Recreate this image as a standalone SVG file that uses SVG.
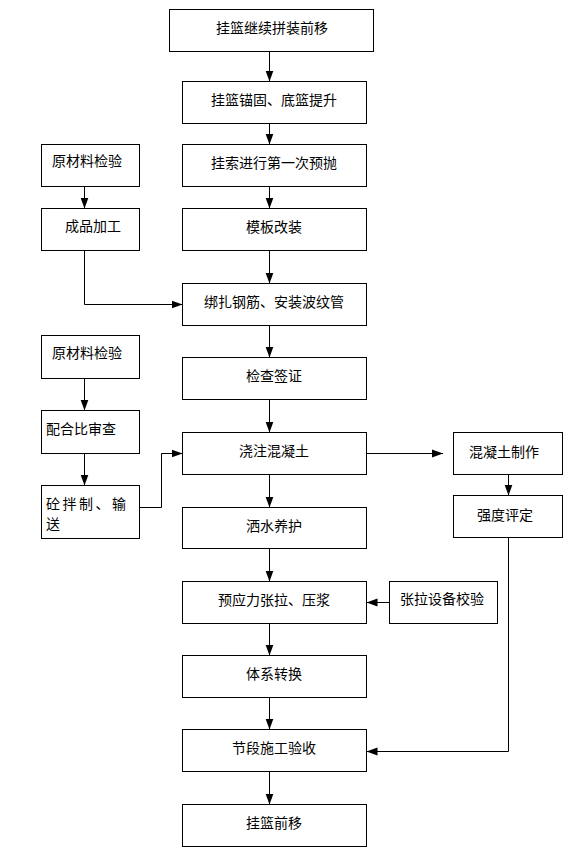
<svg xmlns="http://www.w3.org/2000/svg" width="572" height="866" viewBox="0 0 572 866">
<defs>
<style>
.box{fill:#fff;stroke:#000;stroke-width:1}
.t{font-family:"Noto Sans CJK SC","Liberation Sans",sans-serif;font-size:14px;fill:#000;dominant-baseline:central}
.c{text-anchor:middle}
.ln{fill:none;stroke:#000;stroke-width:1;marker-end:url(#ah)}
</style>
<marker id="ah" markerUnits="userSpaceOnUse" markerWidth="12" markerHeight="10" refX="11" refY="5" orient="auto"><path d="M0,1 L11,5 L0,9 z" fill="#000"/></marker>
</defs>
<rect width="572" height="866" fill="#fff"/>
<g id="n1"><rect class="box" x="169.5" y="9.5" width="204" height="42"/><text class="t c" x="272" y="27">挂篮继续拼装前移</text></g>
<g id="n2"><rect class="box" x="182.5" y="81.5" width="184" height="42"/><text class="t c" x="274" y="99">挂篮锚固、底篮提升</text></g>
<g id="n3"><rect class="box" x="182.5" y="144.5" width="184" height="42"/><text class="t c" x="274" y="162">挂索进行第一次预抛</text></g>
<g id="n4"><rect class="box" x="182.5" y="208.5" width="184" height="42"/><text class="t c" x="274" y="226">模板改装</text></g>
<g id="n5"><rect class="box" x="182.5" y="283.5" width="184" height="42"/><text class="t c" x="274" y="301">绑扎钢筋、安装波纹管</text></g>
<g id="n6"><rect class="box" x="182.5" y="357.5" width="184" height="42"/><text class="t c" x="274" y="375">检查签证</text></g>
<g id="n7"><rect class="box" x="182.5" y="432.5" width="184" height="42"/><text class="t c" x="274" y="450">浇注混凝土</text></g>
<g id="n8"><rect class="box" x="182.5" y="507.5" width="184" height="41"/><text class="t c" x="274" y="525">洒水养护</text></g>
<g id="n9"><rect class="box" x="182.5" y="581.5" width="184" height="42"/><text class="t c" x="274" y="599">预应力张拉、压浆</text></g>
<g id="n10"><rect class="box" x="182.5" y="655.5" width="184" height="42"/><text class="t c" x="274" y="673">体系转换</text></g>
<g id="n11"><rect class="box" x="182.5" y="729.5" width="184" height="42"/><text class="t c" x="274" y="747">节段施工验收</text></g>
<g id="n12"><rect class="box" x="182.5" y="804.5" width="184" height="42"/><text class="t c" x="274" y="822">挂篮前移</text></g>
<g id="l1"><rect class="box" x="41.5" y="144.5" width="98" height="42"/><text class="t" x="52" y="160">原材料检验</text></g>
<g id="l2"><rect class="box" x="41.5" y="208.5" width="98" height="42"/><text class="t" x="65" y="225">成品加工</text></g>
<g id="l3"><rect class="box" x="41.5" y="335.5" width="98" height="43"/><text class="t" x="52" y="352">原材料检验</text></g>
<g id="l4"><rect class="box" x="41.5" y="410.5" width="98" height="43"/><text class="t" x="46" y="428">配合比审查</text></g>
<g id="l5"><rect class="box" x="41.5" y="485.5" width="98" height="53"/><text class="t" x="46" y="503" letter-spacing="2.5">砼拌制、输</text><text class="t" x="46" y="523">送</text></g>
<g id="r1"><rect class="box" x="453.5" y="432.5" width="109" height="42"/><text class="t c" x="504" y="451">混凝土制作</text></g>
<g id="r2"><rect class="box" x="453.5" y="495.5" width="109" height="42"/><text class="t c" x="505" y="514">强度评定</text></g>
<g id="r3"><rect class="box" x="389.5" y="581.5" width="108" height="42"/><text class="t c" x="442" y="598">张拉设备校验</text></g>
<g id="connectors">
<path class="ln" d="M269.5,51.5 V81.5"/>
<path class="ln" d="M269.5,123.5 V144.5"/>
<path class="ln" d="M269.5,186.5 V208.5"/>
<path class="ln" d="M269.5,250.5 V283.5"/>
<path class="ln" d="M269.5,325.5 V357.5"/>
<path class="ln" d="M269.5,399.5 V432.5"/>
<path class="ln" d="M269.5,474.5 V507.5"/>
<path class="ln" d="M269.5,548.5 V581.5"/>
<path class="ln" d="M269.5,623.5 V655.5"/>
<path class="ln" d="M269.5,697.5 V729.5"/>
<path class="ln" d="M269.5,771.5 V804.5"/>
<path class="ln" d="M84.5,186.5 V208.5"/>
<path class="ln" d="M84.5,250.5 V304.5 H182.5"/>
<path class="ln" d="M84.5,378.5 V410.5"/>
<path class="ln" d="M84.5,453.5 V485.5"/>
<path class="ln" d="M139.5,507.5 H161.5 V453.5 H182.5"/>
<path class="ln" d="M366.5,453.5 H443"/>
<path class="ln" d="M508.5,474.5 V495.5"/>
<path class="ln" d="M508.5,537.5 V751.5 H366.5"/>
<path class="ln" d="M389.5,602.5 H366.5"/>
</g>
</svg>
